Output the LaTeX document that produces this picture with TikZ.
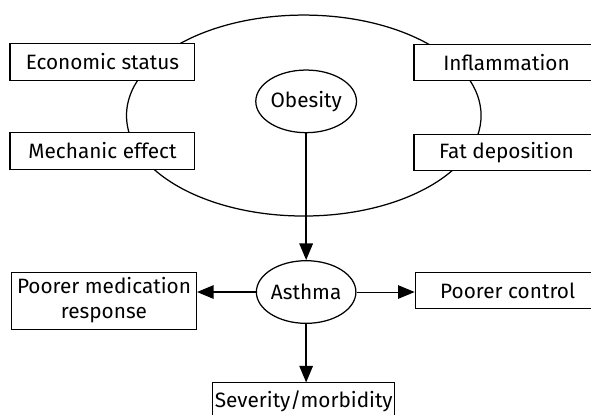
\documentclass[tikz,border=0pt]{standalone}
\usepackage{fontspec}
\setmainfont{Fira Sans}
\usepackage{tikz}
\usetikzlibrary{arrows.meta}
\usetikzlibrary{shapes.geometric,positioning}

\begin{document}
\begin{tikzpicture}
  \tikzset{factor/.style = {shape=rectangle,draw,fill=white,line width=0.5pt,minimum width=3.13cm,minimum height=0.61cm,inner sep=1pt,font=\fontsize{10}{12}\selectfont}}
    \tikzset{disease/.style = {shape=ellipse,draw,fill=white,line width=0.6pt,minimum width=1.455cm,minimum height=1.06cm,inner sep=0pt,font=\fontsize{10}{12}\selectfont}}
        \tikzset{mechanisms/.style = {shape=ellipse,draw,line width=0.6pt,minimum width=6cm,minimum height=3.4cm,inner sep=0pt}}
  \tikzset{edge/.style = {-tipA,line width=0.7pt}}
  \tikzset{%
  tipA/.tip={Triangle[length=8pt,width=6.5pt]},
}

    \useasboundingbox (0,0) rectangle (10,7.005);
    \clip (0,0) rectangle (10,7.005);

	\node[mechanisms] (M) at (5.14,5.05) {};

	\node[factor] (ES) at (1.734,5.956) {Economic status};
	\node[factor] (ME) at (1.734,4.45) {Mechanic effect};
	\node[factor] (IN) at (8.57,5.94) {Inflammation};
	\node[factor] (FD) at (8.57,4.43) {Fat deposition};

	\node[disease] (OB) at (5.18,5.29) {Obesity};
	\node[disease] (AS) at (5.18,2.064) {Asthma};

	\node[factor,minimum height=0.964cm,align=center] (PM) at (1.76,1.92) {Poorer medication\\response};
	\node[factor] (PC) at (8.59,2.09) {Poorer control};
	\node[factor,minimum width=3.08cm] (SM) at (5.14,0.22) {Severity/morbidity};

    \path[edge] (OB) edge (AS);
    \path[edge] (AS.west) edge (AS.west -| PM.east);
    \path[edge] (AS.south) edge (AS.south |- SM.north);
    \path[edge,line width=0.45pt] (AS.east) edge (AS.east -| PC.west);

\end{tikzpicture}
\end{document}
